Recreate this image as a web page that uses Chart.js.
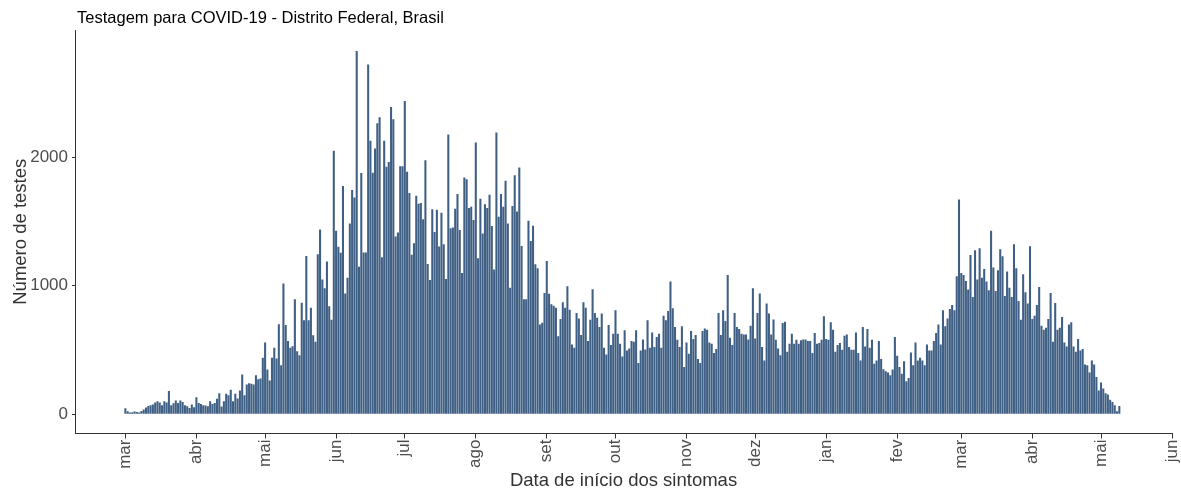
<!DOCTYPE html>
<html>
<head>
<meta charset="utf-8">
<script src="https://cdn.jsdelivr.net/npm/chart.js@4/dist/chart.umd.min.js"></script>
<style>
  html, body { margin: 0; padding: 0; background: #ffffff; }
  #wrap { position: relative; width: 1181px; height: 492px; }
</style>
</head>
<body>
<div id="wrap"><canvas id="c"></canvas></div>
<script>
const chartTitle = 'Testagem para COVID-19 - Distrito Federal, Brasil';
const xAxisTitle = 'Data de início dos sintomas';
const yAxisTitle = 'Número de testes';

// first day of the daily series
const startDate = '2020-03-01';

// daily number of tests by symptom-onset date
const tests = [
  47, 23, 13, 16, 21, 18, 13, 26, 36, 52, 65, 70, 75, 91, 101, 91, 70, 101, 91, 180, 70, 86, 107, 88, 107, 96, 70, 62, 49, 75, 55, 133, 88,
  80, 70, 68, 62, 101, 80, 88, 120, 164, 60, 101, 159, 148, 190, 101, 159, 122, 185, 309, 148, 231, 242, 237, 231, 304, 273, 278, 440, 559, 348, 263, 440, 517, 434,
  700, 382, 1017, 694, 569, 517, 530, 894, 491, 460, 868, 731, 1232, 731, 829, 614, 564, 1245, 1438, 1048, 980, 1188, 840, 736, 2051, 1427, 1303, 1256, 1776, 939, 1063, 1485, 1744, 1687, 2826, 1147,
  1878, 1258, 1258, 2721, 2129, 1880, 2067, 2265, 2312, 1222, 2129, 1926, 1963, 2390, 2296, 1383, 1414, 1929, 1929, 2437, 1887, 1721, 1242, 1331, 1700, 1637, 1643, 1518, 1976, 1170, 1045, 1596, 1419, 1591, 1305,
  1568, 1323, 1053, 2176, 1448, 1453, 1599, 1713, 1433, 1100, 1843, 1828, 1604, 1615, 1511, 2114, 1214, 1677, 1407, 1635, 1604, 1708, 1464, 1126, 2192, 1537, 1713, 1615, 1817, 1485, 985, 1620, 1859, 1578, 1921,
  1310, 894, 894, 1505, 1349, 1466, 1167, 1136, 699, 712, 944, 1193, 938, 855, 845, 829, 606, 741, 871, 829, 996, 814, 543, 517, 788, 746, 616, 871, 829, 569, 736, 972, 788, 751, 679,
  783, 517, 465, 694, 538, 627, 809, 627, 549, 450, 653, 497, 512, 569, 564, 653, 398, 497, 582, 504, 731, 517, 637, 523, 601, 627, 517, 767, 731, 803, 1032, 824, 679, 580, 523,
  684, 367, 559, 471, 647, 585, 616, 429, 398, 647, 668, 658, 559, 549, 476, 507, 788, 616, 809, 725, 1084, 595, 538, 788, 679, 663, 627, 621, 621, 582, 689, 980, 590, 788,
  939, 523, 419, 861, 783, 621, 738, 580, 512, 460, 710, 720, 486, 549, 627, 549, 580, 549, 575, 582, 582, 569, 569, 476, 632, 549, 554, 580, 762, 585, 580, 715, 658, 486, 538,
  554, 502, 611, 621, 523, 502, 502, 637, 476, 419, 679, 528, 663, 517, 580, 393, 419, 569, 429, 351, 335, 325, 304, 348, 601, 455, 367, 315, 413, 257, 283, 481, 382, 559, 419,
  439, 419, 382, 543, 497, 497, 569, 632, 699, 543, 809, 684, 746, 819, 850, 809, 1074, 1672, 1100, 1084, 1037, 970, 1240, 913, 1277, 1048, 1292, 1063, 1131, 1032, 965, 1427, 1141, 959, 1121,
  1284, 1230, 920, 1110, 985, 913, 1323, 1136, 881, 736, 1089, 949, 861, 1308, 741, 767, 850, 991, 689, 658, 674, 741, 944, 564, 866, 658, 674, 757, 559, 528, 699, 715, 528, 486, 585, 497, 507, 387, 382, 325, 419, 387, 290, 185, 247, 200, 164, 153, 112, 96, 70, 23, 65
];

// x-axis month ticks
const monthTickDates = ['2020-03-01','2020-04-01','2020-05-01','2020-06-01','2020-07-01','2020-08-01','2020-09-01','2020-10-01','2020-11-01','2020-12-01','2021-01-01','2021-02-01','2021-03-01','2021-04-01','2021-05-01','2021-06-01'];
const monthTickLabels = ['mar','abr','mai','jun','jul','ago','set','out','nov','dez','jan','fev','mar','abr','mai','jun'];

// y-axis ticks
const yTickValues = [0, 1000, 2000];

const DAY = 86400000;
function dayIndex(d) { return Math.round((Date.parse(d + 'T00:00:00Z') - Date.parse(startDate + 'T00:00:00Z')) / DAY); }

const points = tests.map((v, i) => ({ x: i, y: v }));
const tickIdx = monthTickDates.map(dayIndex);

const FONT = '"Liberation Sans", Arial, sans-serif';

const titlePlugin = {
  id: 'ggTitle',
  afterDraw(chart) {
    const ctx = chart.ctx;
    ctx.save();
    ctx.font = '16.5px ' + FONT;
    ctx.fillStyle = '#000000';
    ctx.textBaseline = 'alphabetic';
    ctx.textAlign = 'left';
    ctx.fillText(chartTitle, chart.chartArea.left + 2, 23);
    ctx.restore();
  }
};

new Chart(document.getElementById('c'), {
  type: 'bar',
  data: {
    datasets: [{
      data: points,
      backgroundColor: '#3F5F84',
      borderWidth: 0,
      barPercentage: 0.9,
      categoryPercentage: 1.0
    }]
  },
  options: {
    responsive: true,
    maintainAspectRatio: false,
    animation: false,
    layout: { padding: { top: 30, left: 0, right: 9, bottom: 0 } },
    plugins: { legend: { display: false }, tooltip: { enabled: false }, title: { display: false } },
    scales: {
      x: {
        type: 'linear',
        min: -22,
        max: 457,
        offset: false,
        afterBuildTicks(scale) { scale.ticks = tickIdx.map(v => ({ value: v })); },
        afterFit(scale) { scale.paddingLeft = 0; scale.paddingRight = 0; },
        ticks: {
          autoSkip: false,
          minRotation: 90,
          maxRotation: 90,
          color: '#4D4D4D',
          font: { family: FONT, size: 17 },
          padding: 1,
          callback(value, index) { return monthTickLabels[index]; }
        },
        grid: { display: true, offset: false, drawOnChartArea: false, drawTicks: true, tickLength: 5, color: '#333333' },
        border: { display: true, color: '#333333', width: 1 },
        title: { display: true, text: xAxisTitle, color: '#333333', font: { family: FONT, size: 18.5 }, padding: { top: 0, bottom: 0 } }
      },
      y: {
        type: 'linear',
        min: -150,
        max: 2990,
        afterBuildTicks(scale) { scale.ticks = yTickValues.map(v => ({ value: v })); },
        afterFit(scale) { scale.width -= 6; },
        ticks: {
          color: '#4D4D4D',
          font: { family: FONT, size: 17 },
          padding: 4,
          callback(value) { return String(value); }
        },
        grid: { display: true, offset: false, drawOnChartArea: false, drawTicks: true, tickLength: 3, color: '#333333' },
        border: { display: true, color: '#333333', width: 1 },
        title: { display: true, text: yAxisTitle, color: '#333333', font: { family: FONT, size: 18.5 }, padding: { top: 10, bottom: 0 } }
      }
    }
  },
  plugins: [titlePlugin]
});
</script>
</body>
</html>
